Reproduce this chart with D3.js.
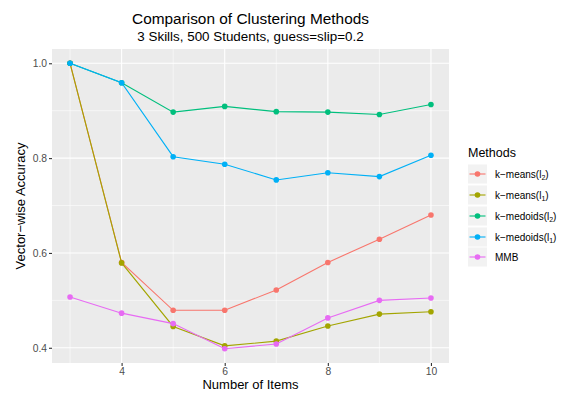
<!DOCTYPE html>
<html><head><meta charset="utf-8">
<script src="https://cdn.jsdelivr.net/npm/d3@7"></script>
<style>body{margin:0;background:#fff}text{font-family:"Liberation Sans",Arial,sans-serif}</style>
</head><body>
<svg id="c" width="564" height="395"></svg>
<script>
const items = [3,4,5,6,7,8,9,10];
const kmeansL2 = [1.0,0.580,0.479,0.479,0.522,0.580,0.629,0.680];
const kmeansL1 = [1.0,0.579,0.445,0.404,0.414,0.446,0.471,0.476];
const kmedoidsL2 = [1.0,0.959,0.897,0.909,0.898,0.897,0.892,0.913];
const kmedoidsL1 = [1.0,0.959,0.803,0.787,0.754,0.769,0.761,0.806];
const mmb = [0.507,0.473,0.451,0.398,0.408,0.463,0.500,0.505];
const seriesNames = [["k\u2212means(l","2",")"],["k\u2212means(l","1",")"],["k\u2212medoids(l","2",")"],["k\u2212medoids(l","1",")"],["MMB","",""]];
const colors = ["#F8766D","#A3A500","#00BF7D","#00B0F6","#E76BF3"];
const xTicks = [4,6,8,10];
const xMinor = [3,5,7,9];
const yTicks = [0.4,0.6,0.8,1.0];
const yMinor = [0.5,0.7,0.9];
const series = [kmeansL2,kmeansL1,kmedoidsL2,kmedoidsL1,mmb];

const svg = d3.select("#c");
const L=52, R=449, T=49, B=363;
const allV = series.flat();
const ymin=d3.min(allV), ymax=d3.max(allV), ex=(ymax-ymin)*0.05;
const x = d3.scaleLinear().domain([3-0.35,10+0.35]).range([L,R]);
const y = d3.scaleLinear().domain([ymin-ex,ymax+ex]).range([B,T]);

svg.append("rect").attr("x",L).attr("y",T).attr("width",R-L).attr("height",B-T).attr("fill","#EBEBEB");
const g = svg.append("g");
xMinor.forEach(v=>g.append("line").attr("x1",x(v)).attr("x2",x(v)).attr("y1",T).attr("y2",B).attr("stroke","#fff").attr("stroke-width",0.55));
yMinor.forEach(v=>g.append("line").attr("y1",y(v)).attr("y2",y(v)).attr("x1",L).attr("x2",R).attr("stroke","#fff").attr("stroke-width",0.55));
xTicks.forEach(v=>g.append("line").attr("x1",x(v)).attr("x2",x(v)).attr("y1",T).attr("y2",B).attr("stroke","#fff").attr("stroke-width",1.1));
yTicks.forEach(v=>g.append("line").attr("y1",y(v)).attr("y2",y(v)).attr("x1",L).attr("x2",R).attr("stroke","#fff").attr("stroke-width",1.1));

const xAxis = svg.append("g").attr("transform",`translate(0,${B})`).call(d3.axisBottom(x).tickValues(xTicks).tickSize(3).tickPadding(2).tickFormat(d3.format("d")));
const yAxis = svg.append("g").attr("transform",`translate(${L},0)`).call(d3.axisLeft(y).tickValues(yTicks).tickSize(3).tickPadding(2).tickFormat(d3.format(".1f")));
[xAxis,yAxis].forEach(a=>{a.select(".domain").remove();a.selectAll(".tick line").attr("stroke","#333").attr("stroke-width",1.1);a.selectAll(".tick text").attr("fill","#4D4D4D").style("font-size","10.3px").style("font-family","Liberation Sans, Arial, sans-serif");});

const line = d3.line().x((d,i)=>x(items[i])).y(d=>y(d));
series.forEach((s,k)=>{
  g.append("path").attr("d",line(s)).attr("fill","none").attr("stroke",colors[k]).attr("stroke-width",1.1);
  g.selectAll(null).data(s).enter().append("circle").attr("cx",(d,i)=>x(items[i])).attr("cy",d=>y(d)).attr("r",2.8).attr("fill",colors[k]);
});

svg.append("text").attr("x",(L+R)/2).attr("y",24).attr("text-anchor","middle").style("font-size","15.4px").attr("fill","#000").text("Comparison of Clustering Methods");
svg.append("text").attr("x",(L+R)/2).attr("y",40.5).attr("text-anchor","middle").style("font-size","13.4px").attr("fill","#000").text("3 Skills, 500 Students, guess=slip=0.2");
svg.append("text").attr("x",(L+R)/2).attr("y",389).attr("text-anchor","middle").style("font-size","13px").attr("fill","#000").text("Number of Items");
svg.append("text").attr("transform",`translate(24.5,${(T+B)/2}) rotate(-90)`).attr("text-anchor","middle").style("font-size","13px").attr("fill","#000").text("Vector\u2212wise Accuracy");

const lg = svg.append("g");
lg.append("text").attr("x",468).attr("y",157).style("font-size","12.5px").attr("fill","#000").text("Methods");
const rowsY=[174,195,216,237,257];
seriesNames.forEach((nm,k)=>{
  const cy=rowsY[k];
  lg.append("rect").attr("x",468).attr("y",cy-9.5).attr("width",19).attr("height",19).attr("fill","#F2F2F2");
  lg.append("line").attr("x1",469.5).attr("x2",485.5).attr("y1",cy).attr("y2",cy).attr("stroke",colors[k]).attr("stroke-width",1.1);
  lg.append("circle").attr("cx",477.5).attr("cy",cy).attr("r",2.8).attr("fill",colors[k]);
  const t = lg.append("text").attr("x",495).attr("y",cy+3.5).style("font-size","10px").attr("fill","#000");
  t.append("tspan").text(nm[0]);
  if(nm[1]){t.append("tspan").attr("dy",2.5).style("font-size","7px").text(nm[1]);t.append("tspan").attr("dy",-2.5).text(nm[2]);}
});
</script>
</body></html>
